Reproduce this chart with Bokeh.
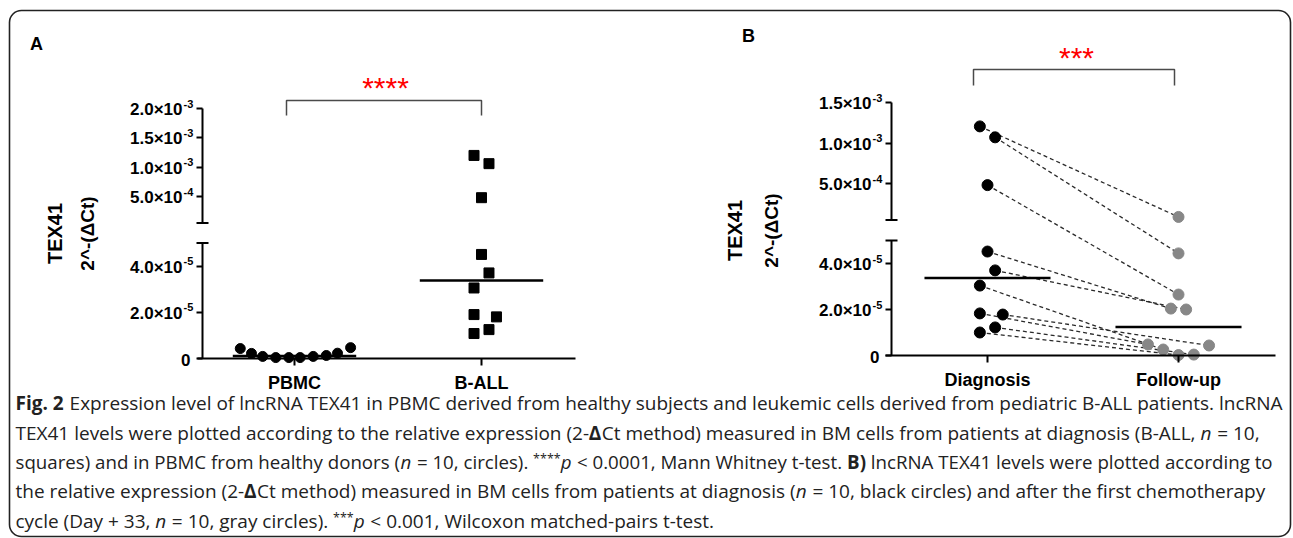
import numpy as np
from bokeh.plotting import figure
from bokeh.models import Range1d, LinearAxis, FixedTicker, BoxAnnotation
from bokeh.embed import file_html
from bokeh.resources import INLINE
from bokeh.core.properties import value

# ---------------- data ----------------
categories_a = ["PBMC", "B-ALL"]
categories_b = ["Diagnosis", "Follow-up"]

pbmc_values = [4.3e-6, 2.2e-6, 9.0e-7, 4.0e-7, 4.0e-7, 4.0e-7, 9.0e-7, 1.3e-6, 2.3e-6, 4.7e-6]
ball_values = [1.20e-3, 1.06e-3, 4.8e-4, 4.5e-5, 3.7e-5, 3.05e-5, 1.9e-5, 1.8e-5, 1.25e-5, 1.08e-5]

diagnosis_values = [1.205e-3, 1.07e-3, 4.8e-4, 4.52e-5, 3.7e-5, 3.04e-5, 1.83e-5, 1.78e-5, 1.22e-5, 1.0e-5]
followup_values = [8.7e-5, 4.44e-5, 2.65e-5, 2.04e-5, 2.0e-5, 2.6e-6, 4.8e-6, 4.35e-6, 4.0e-7, 2.0e-7]

# horizontal spread of the points inside each column (category units)
pbmc_jitter = [-0.29, -0.23, -0.17, -0.10, -0.03, 0.03, 0.10, 0.17, 0.23, 0.30]
ball_jitter = [-0.04, 0.04, 0.0, 0.0, 0.04, -0.04, -0.04, 0.08, 0.04, -0.04]
diagnosis_jitter = [-0.04, 0.04, 0.0, 0.0, 0.04, -0.04, -0.04, 0.08, 0.04, -0.04]
followup_jitter = [0.0, 0.0, 0.0, -0.04, 0.04, -0.08, -0.16, 0.16, 0.08, 0.0]

axis_break = 5e-5
ticks_a_low = [0, 2e-5, 4e-5]
ticks_a_high = [5e-4, 1e-3, 1.5e-3, 2e-3]
ticks_b_low = [0, 2e-5, 4e-5]
ticks_b_high = [5e-4, 1e-3, 1.5e-3]
tick_mantissa = {0: "0", 2e-5: "2.0×10", 4e-5: "4.0×10", 5e-4: "5.0×10",
                 1e-3: "1.0×10", 1.5e-3: "1.5×10", 2e-3: "2.0×10"}
tick_exponent = {0: "", 2e-5: "-5", 4e-5: "-5", 5e-4: "-4", 1e-3: "-3", 1.5e-3: "-3", 2e-3: "-3"}
significance_a = "****"
significance_b = "***"
y_title = ["TEX41", "2^-(ΔCt)"]

caption = [
    [("Fig. 2", "bold"), (" Expression level of lncRNA TEX41 in PBMC derived from healthy subjects and leukemic cells derived from pediatric B-ALL patients. lncRNA", "normal")],
    [("TEX41 levels were plotted according to the relative expression (2-", "normal"), ("Δ", "bold"),
     ("Ct method) measured in BM cells from patients at diagnosis (B-ALL, ", "normal"), ("n", "italic"), (" = 10,", "normal")],
    [("squares) and in PBMC from healthy donors (", "normal"), ("n", "italic"), (" = 10, circles).", "normal"),
     (" ****", "stars"), ("p", "italic"), (" < 0.0001, Mann Whitney t-test. ", "normal"), ("B)", "bold"),
     (" lncRNA TEX41 levels were plotted according to", "normal")],
    [("the relative expression (2-", "normal"), ("Δ", "bold"),
     ("Ct method) measured in BM cells from patients at diagnosis (", "normal"), ("n", "italic"),
     (" = 10, black circles) and after the first chemotherapy", "normal")],
    [("cycle (Day + 33, ", "normal"), ("n", "italic"), (" = 10, gray circles).", "normal"), (" ***", "stars"),
     ("p", "italic"), (" < 0.001, Wilcoxon matched-pairs t-test.", "normal")],
]

# ---------------- layout ----------------
W, H = 1293, 538


def x_range_for(u0, px0, u1, px1):
    k = (px1 - px0) / (u1 - u0)
    return Range1d(start=u0 - px0 / k, end=u0 + (W - px0) / k)


def y_range_for(v0, py0, v1, py1):
    k = (py0 - py1) / (v1 - v0)
    return Range1d(start=v0 - (H - py0) / k, end=v0 + py0 / k)


def px_to_u(px, u0, px0, u1, px1):
    return u0 + (px - px0) * (u1 - u0) / (px1 - px0)


def lo_to_hi(v, lo, hi):
    f = (v - lo.start) / (lo.end - lo.start)
    return hi.start + f * (hi.end - hi.start)


p = figure(width=W, height=H, x_range=Range1d(0, W), y_range=Range1d(H, 0),
           x_axis_location=None, y_axis_location=None, toolbar_location=None, tools="",
           output_backend="svg", min_border=0, outline_line_color=None,
           background_fill_color="white", border_fill_color="white")
p.xgrid.grid_line_color = None
p.ygrid.grid_line_color = None

A_anchor = (1, 294, 2, 481)
B_anchor = (1, 987, 2, 1178)
p.extra_x_ranges = {"A": x_range_for(*A_anchor), "B": x_range_for(*B_anchor)}
ranges_y = {
    "A_lo": y_range_for(0, 358, 4e-5, 265.5),
    "A_hi": y_range_for(5e-4, 196, 2e-3, 108),
    "B_lo": y_range_for(0, 355, 4e-5, 263),
    "B_hi": y_range_for(5e-4, 183, 1.5e-3, 102),
}
p.extra_y_ranges = ranges_y

FONT = "Liberation Sans"


def y_axis(panel, seg, axis_px, xanchor, bounds, ticks):
    xloc = px_to_u(axis_px, *xanchor)
    yname = f"{panel}_{seg}"
    ax = LinearAxis(x_range_name=panel, y_range_name=yname, fixed_location=xloc, bounds=bounds,
                    ticker=FixedTicker(ticks=ticks, minor_ticks=[]),
                    major_label_overrides={t: "" for t in ticks},
                    axis_line_width=2, axis_line_color="black",
                    major_tick_line_width=2, major_tick_line_color="black", major_tick_out=6, major_tick_in=0,
                    minor_tick_line_color=None, major_label_text_font_size="1px")
    p.add_layout(ax, "left")
    # cap of the broken axis
    p.segment(x0=[axis_px - 6], x1=[axis_px + 6], y0=[axis_break], y1=[axis_break],
              y_range_name=yname, line_color="black", line_width=2)
    # tick labels: mantissa + superscript exponent
    main_x = [axis_px - (20 if tick_exponent[t] else 12) for t in ticks]
    p.text(x=main_x, y=ticks, text=[tick_mantissa[t] for t in ticks], y_range_name=yname,
           text_align="right", text_baseline="middle", y_offset=1,
           text_font=value(FONT), text_font_style="bold", text_font_size="17px", text_color="black")
    exp_ticks = [t for t in ticks if tick_exponent[t]]
    p.text(x=[axis_px - 19] * len(exp_ticks), y=exp_ticks, text=[tick_exponent[t] for t in exp_ticks],
           y_range_name=yname, text_align="left", text_baseline="middle", y_offset=-5,
           text_font=value(FONT), text_font_style="bold", text_font_size="11px", text_color="black")


def x_axis(panel, xanchor, left_px, right_px, labels):
    ax = LinearAxis(x_range_name=panel, y_range_name=f"{panel}_lo", fixed_location=0,
                    bounds=(px_to_u(left_px, *xanchor), px_to_u(right_px, *xanchor)),
                    ticker=FixedTicker(ticks=[1, 2], minor_ticks=[]),
                    major_label_overrides={1: labels[0], 2: labels[1]},
                    axis_line_width=2, axis_line_color="black",
                    major_tick_line_width=2, major_tick_line_color="black", major_tick_out=7, major_tick_in=0,
                    minor_tick_line_color=None,
                    major_label_text_font=FONT, major_label_text_font_style="bold",
                    major_label_text_font_size="18px", major_label_text_color="black",
                    major_label_standoff=7)
    p.add_layout(ax, "below")


# ---- panel A axes
y_axis("A", "hi", 202, A_anchor, (axis_break, 2e-3), ticks_a_high)
y_axis("A", "lo", 202, A_anchor, (0, axis_break), ticks_a_low)
x_axis("A", A_anchor, 197, 575, categories_a)
# ---- panel B axes
y_axis("B", "hi", 891, B_anchor, (axis_break, 1.5e-3), ticks_b_high)
y_axis("B", "lo", 891, B_anchor, (0, axis_break), ticks_b_low)
x_axis("B", B_anchor, 885, 1275, categories_b)


def points(panel, center, vals, jit, marker, color, size):
    xs = [center + j for j in jit]
    for seg, keep in (("lo", lambda v: v < axis_break), ("hi", lambda v: v >= axis_break)):
        pts = [(x, v) for x, v in zip(xs, vals) if keep(v)]
        if pts:
            p.scatter(x=[a for a, _ in pts], y=[b for _, b in pts], x_range_name=panel,
                      y_range_name=f"{panel}_{seg}", marker=marker, size=size,
                      fill_color=color, line_color=color)


def median_bar(panel, center, vals):
    m = float(np.median(vals))
    seg = "lo" if m < axis_break else "hi"
    p.segment(x0=[center - 0.33], x1=[center + 0.33], y0=[m], y1=[m], x_range_name=panel,
              y_range_name=f"{panel}_{seg}", line_color="black", line_width=2.5)


# ---- panel A data
points("A", 1, pbmc_values, pbmc_jitter, "circle", "black", 10)
points("A", 2, ball_values, ball_jitter, "square", "black", 10)
median_bar("A", 1, pbmc_values)
median_bar("A", 2, ball_values)

# ---- panel B data: paired dashed lines (drawn in the upper-segment scale)
lo_b, hi_b = ranges_y["B_lo"], ranges_y["B_hi"]


def to_hi(v):
    return v if v >= axis_break else lo_to_hi(v, lo_b, hi_b)


p.segment(x0=[1 + j for j in diagnosis_jitter], y0=[to_hi(v) for v in diagnosis_values],
          x1=[2 + j for j in followup_jitter], y1=[to_hi(v) for v in followup_values],
          x_range_name="B", y_range_name="B_hi", line_color="#2a2a2a", line_width=1.3, line_dash="4 3")
median_bar("B", 1, diagnosis_values)
median_bar("B", 2, followup_values)
points("B", 1, diagnosis_values, diagnosis_jitter, "circle", "black", 11)
points("B", 2, followup_values, followup_jitter, "circle", "#878787", 11)

# ---- significance brackets
p.line(x=[286, 286, 481, 481], y=[115, 100, 100, 115], line_color="#4a4a4a", line_width=1.5)
p.line(x=[973, 973, 1174, 1174], y=[85, 69, 69, 85], line_color="#4a4a4a", line_width=1.5)
p.text(x=[385, 1076], y=[87, 57], text=[significance_a, significance_b], text_align="center",
       text_baseline="alphabetic", text_font=value(FONT), text_font_size="30px", text_color="#ff0000")

# ---- panel letters
p.text(x=[36, 748], y=[43, 35], text=["A", "B"], text_align="center", text_baseline="middle",
       text_font=value(FONT), text_font_style="bold", text_font_size="18px", text_color="black")

# ---- y titles (rotated)
p.text(x=[54, 734], y=[233, 230], text=[y_title[0]] * 2, angle=np.pi / 2, text_align="center",
       text_baseline="middle", text_font=value(FONT), text_font_style="bold", text_font_size="20px",
       text_color="black")
p.text(x=[87, 771], y=[233, 230], text=[y_title[1]] * 2, angle=np.pi / 2, text_align="center",
       text_baseline="middle", text_font=value(FONT), text_font_style="bold", text_font_size="19px",
       text_color="black")

# ---- caption
_w = dict(zip("abcdefghijklmnopqrstuvwxyz",
              [.556, .613, .480, .613, .561, .336, .546, .614, .252, .252, .529, .252, .931, .614, .600,
               .613, .613, .409, .476, .353, .614, .500, .778, .523, .500, .468]))
_w.update(dict(zip("ABCDEFGHIJKLMNOPQRSTUVWXYZ",
                   [.633, .647, .631, .730, .556, .519, .728, .738, .279, .267, .600, .524, .907, .753, .779,
                    .602, .779, .618, .549, .553, .729, .599, .928, .576, .560, .559])))
_w.update({c: .572 for c in "0123456789=<+"})
_w.update({" ": .260, ".": .268, ",": .245, "(": .296, ")": .296, "-": .322, "*": .551, "Δ": .640})

CAP_X = 15
cap_y = [402, 432, 461, 490, 520]
cap_size = [19, 19, 18.7, 19, 19]
STAR_SIZE = 12.5
style_font = {"normal": ("normal", 1.0, 0), "bold": ("bold", 1.0, 0), "italic": ("italic", 1.0, 0),
              "stars": ("normal", None, -3)}


def tw(s, size, style):
    f = 1.07 if style == "bold" else 1.0
    return sum(_w.get(c, .56) for c in s) * size * f


groups = {}
for line, yy, size in zip(caption, cap_y, cap_size):
    x = CAP_X
    for txt, style in line:
        fstyle, _, yoff = style_font[style]
        seg_size = STAR_SIZE if style == "stars" else size
        lead = len(txt) - len(txt.lstrip(" "))
        x += tw(" " * lead, size, "normal")
        core = txt.strip(" ")
        if core:
            g = groups.setdefault((fstyle, seg_size, yoff), ([], [], []))
            g[0].append(x)
            g[1].append(yy)
            g[2].append(core)
        x += tw(core, seg_size, style)
        trail = len(txt) - len(txt.rstrip(" "))
        x += tw(" " * trail, size, "normal")
for (fstyle, seg_size, yoff), (xs, ys, ts) in groups.items():
    p.text(x=xs, y=ys, text=ts, text_align="left", text_baseline="middle", y_offset=yoff,
           text_font=value("Open Sans"), text_font_size=f"{seg_size}px",
           text_font_style=fstyle, text_color="#222222")

# ---- rounded frame
p.add_layout(BoxAnnotation(left=9, right=1290, top=10, bottom=536, fill_color=None, fill_alpha=0,
                           line_color="#222222", line_alpha=1.0, line_width=1.6, border_radius=12))

open("out.html", "w").write(file_html(p, INLINE))
